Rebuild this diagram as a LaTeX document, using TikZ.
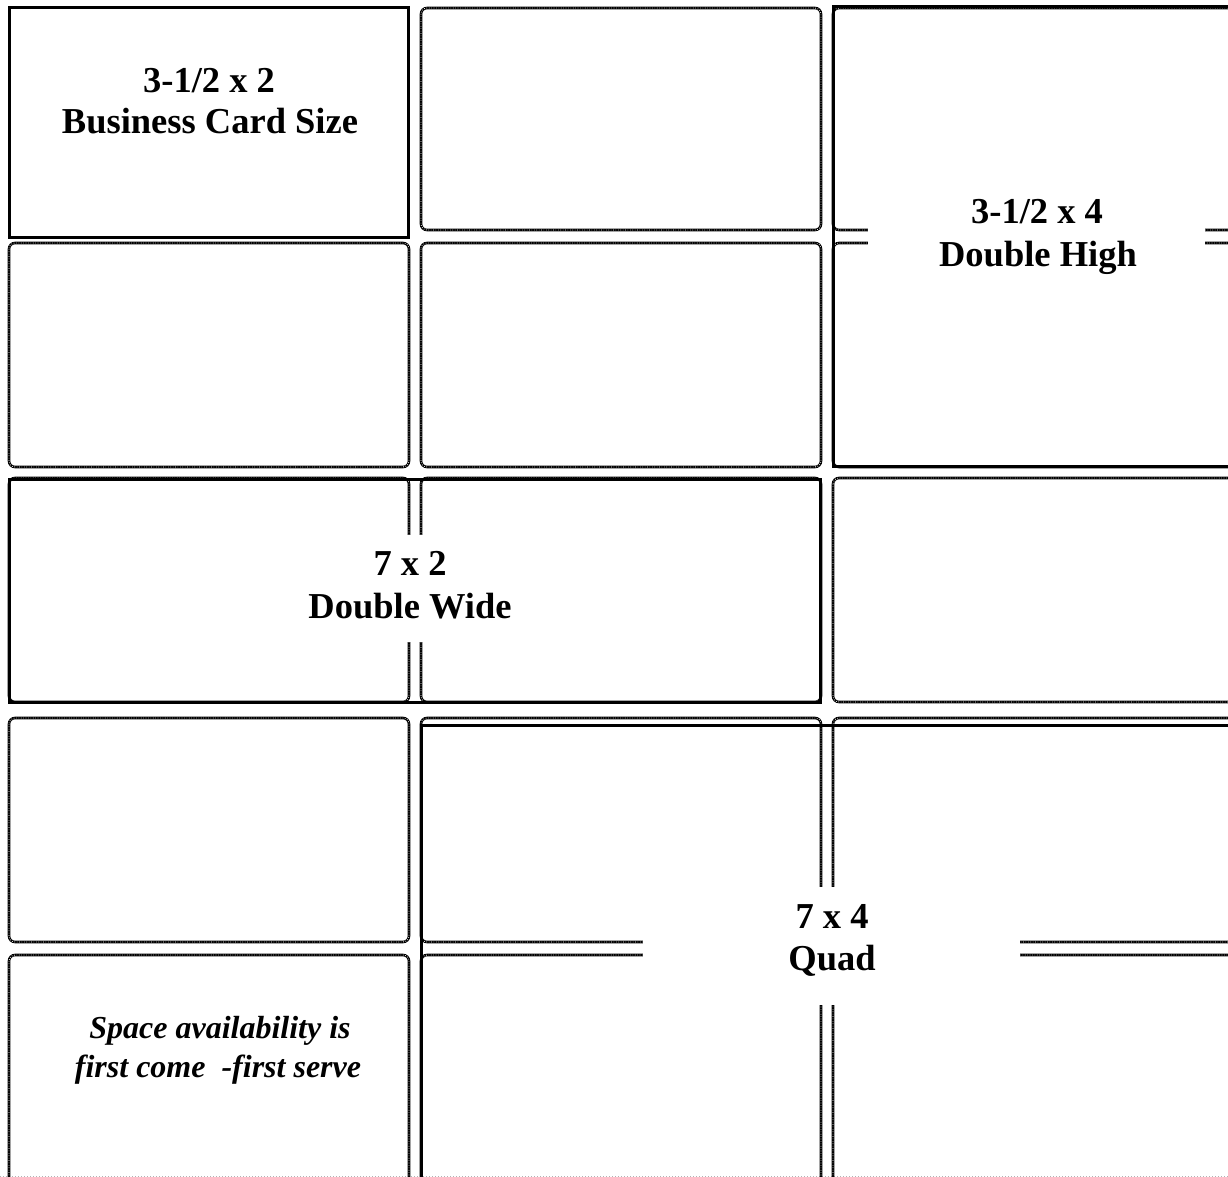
\documentclass[tikz,border=0pt]{standalone}
\usepackage{fontspec}
\setmainfont{Liberation Serif}
\begin{document}
\begin{tikzpicture}[x=1pt,y=-1pt,
  cell/.style={draw=black,line width=2.6pt,rounded corners=6pt,
    postaction={draw=white,line width=0.9pt,dash pattern=on 0.6pt off 1.8pt}},
  solidbox/.style={draw=black,line width=3pt},
  cover/.style={fill=white,draw=none},
  bigtext/.style={anchor=base,inner sep=0pt,font=\fontsize{36.5}{40}\selectfont\bfseries},
  ittext/.style={anchor=base,inner sep=0pt,font=\fontsize{32}{36}\selectfont\bfseries\itshape}]
\useasboundingbox (0,0) rectangle (1228,1177);
\clip (0,0) rectangle (1228,1177);
% faint page edge
\draw[gray!60,line width=0.8pt,dash pattern=on 1pt off 2pt] (0,1176.5) -- (1228,1176.5);
% grid of card cells (the top-left one is the solid business card box)
\foreach \xa/\xb in {9/409,421/821,833/1240}{
  \foreach \ya/\yb in {8/230,243/467,478/702,718/942,955/1190}{
    \ifnum\xa=9 \ifnum\ya=8 \else \draw[cell] (\xa,\ya) rectangle (\xb,\yb); \fi
    \else \draw[cell] (\xa,\ya) rectangle (\xb,\yb); \fi
  }
}
% solid ad boxes
\draw[solidbox] (9.5,8) rectangle (408,237);
\draw[solidbox] (833.5,7) rectangle (1240,466);
\draw[solidbox] (9.5,479) rectangle (820.5,702);
\draw[solidbox] (421,725) rectangle (1240,1190);
% white areas behind labels
\fill[cover] (868,195) rectangle (1205,280);
\fill[cover] (290,535) rectangle (530,642);
\fill[cover] (643,887) rectangle (1020,1005);
% labels
\node[bigtext] (bc1) at (209,93) {3-1/2 x 2};
\node[bigtext] (bc2) at (210,134) {Business Card Size};
\node[bigtext] (dh1) at (1037,223) {3-1/2 x 4};
\node[bigtext] (dh2) at (1038,266) {Double High};
\node[bigtext] (dw1) at (410,575) {7 x 2};
\node[bigtext] (dw2) at (410,618) {Double Wide};
\node[bigtext] (q1) at (832,928) {7 x 4};
\node[bigtext] (q2) at (832,970) {Quad};
\node[ittext] (n1) at (220,1038) {Space availability is};
\node[ittext] (n2) at (218,1077) {first come~ -first serve};
\end{tikzpicture}
\end{document}
